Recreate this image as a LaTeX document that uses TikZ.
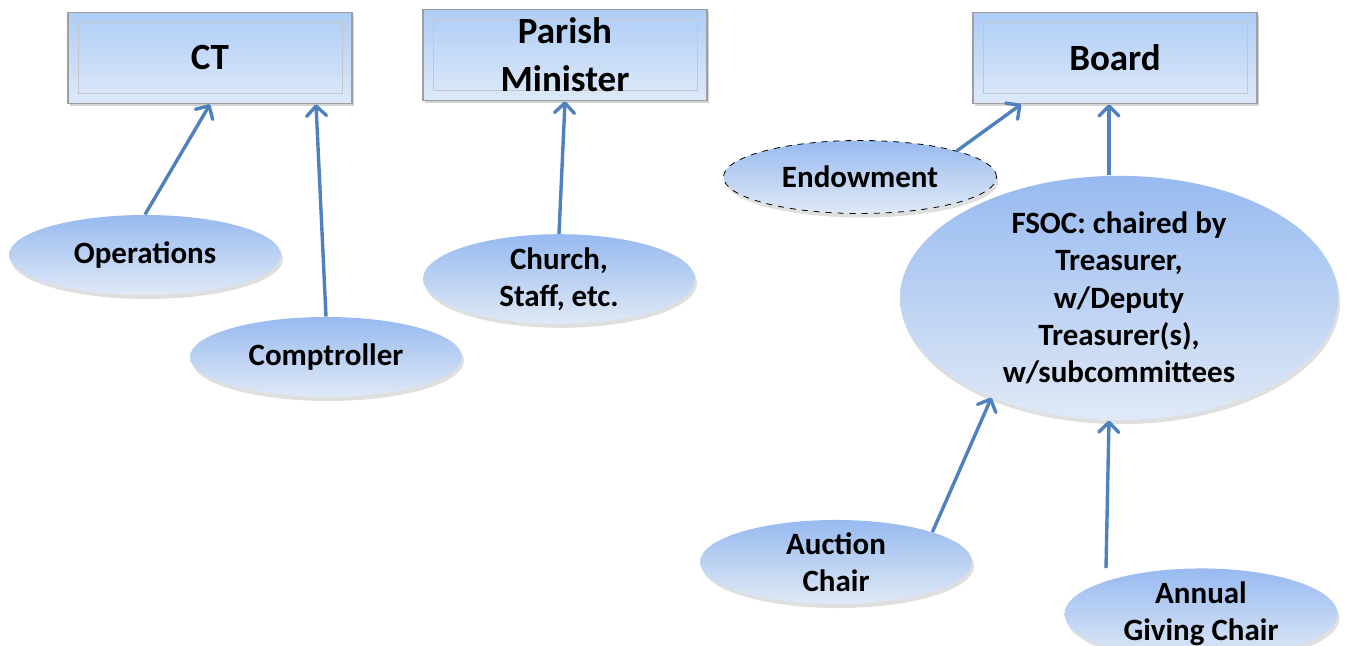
\documentclass[tikz,border=0pt]{standalone}
\usepackage{fontspec}
\setmainfont{Carlito}
\usetikzlibrary{shapes.geometric, shadows, arrows.meta}
\definecolor{boxtop}{HTML}{AFCDF6}
\definecolor{boxbot}{HTML}{DDE9F9}
\definecolor{elltop}{HTML}{97BAF0}
\definecolor{ellbot}{HTML}{E0E9F6}
\definecolor{linkblue}{HTML}{4F81BD}

\begin{document}
\begin{tikzpicture}[x=0.5pt, y=-0.5pt,
  office/.style = {draw=gray!75, line width=.8pt, top color=boxtop, bottom color=boxbot, minimum width=142pt, minimum height=45.5pt, inner sep=0pt, align=center, font=\fontsize{18.5}{24}\selectfont\bfseries, drop shadow={opacity=.35, shadow xshift=1pt, shadow yshift=-1.5pt},
    path picture={\draw[gray!45, line width=.5pt] ([shift={(5pt,-5pt)}]path picture bounding box.north west) rectangle ([shift={(-5pt,5pt)}]path picture bounding box.south east);}},
  unit/.style = {ellipse, top color=elltop, bottom color=ellbot, minimum width=136pt, minimum height=40pt, inner sep=0pt, align=center, font=\fontsize{15.5}{18.7}\selectfont\bfseries, drop shadow={opacity=.25, shadow xshift=1pt, shadow yshift=-2pt}},
  link/.style = {-{Straight Barb[length=5pt, width=10pt, round]}, draw=linkblue, line width=1.7pt}]
\useasboundingbox (0,0) rectangle (1346,646);
% top row
\node[office] (ct) at (210,58) {CT};
\node[office] (pm) at (565,55) {Parish\\Minister};
\node[office] (board) at (1115,58) {Board};
% groups
\node[unit] (ops) at (145,255) {Operations};
\node[unit] (comp) at (326,357) {Comptroller};
\node[unit, minimum height=41.5pt] (church) at (559,279) {Church,\\Staff, etc.};
\node[unit, draw=black, dashed, minimum width=136.5pt, minimum height=36.5pt] (endow) at (860,177) {Endowment};
\node[unit, minimum width=219pt, minimum height=102.5pt] (fsoc) at (1119,298) {FSOC: chaired by\\Treasurer,\\w/Deputy\\Treasurer(s),\\w/subcommittees};
\node[unit, minimum height=41.5pt] (auction) at (836,562) {Auction\\Chair};
\node[unit, minimum width=136.5pt] (annual) at (1201,614) {Annual\\Giving Chair};
% reporting lines
\draw [link] (ops.north) -- (ct.south);
\draw [link] (comp.north) -- ([xshift=53pt]ct.south);
\draw [link] (church.north) -- (pm.south);
\draw [link] (endow.north east) -- ([xshift=24.5pt]board.south west);
\draw [link] ([xshift=-5pt]fsoc.north) -- ([xshift=-3pt]board.south);
\draw [link] (auction.north east) -- (fsoc.218);
\draw [link] ([xshift=-47.5pt]annual.north) -- ([xshift=-5pt]fsoc.south);
\end{tikzpicture}
\end{document}
